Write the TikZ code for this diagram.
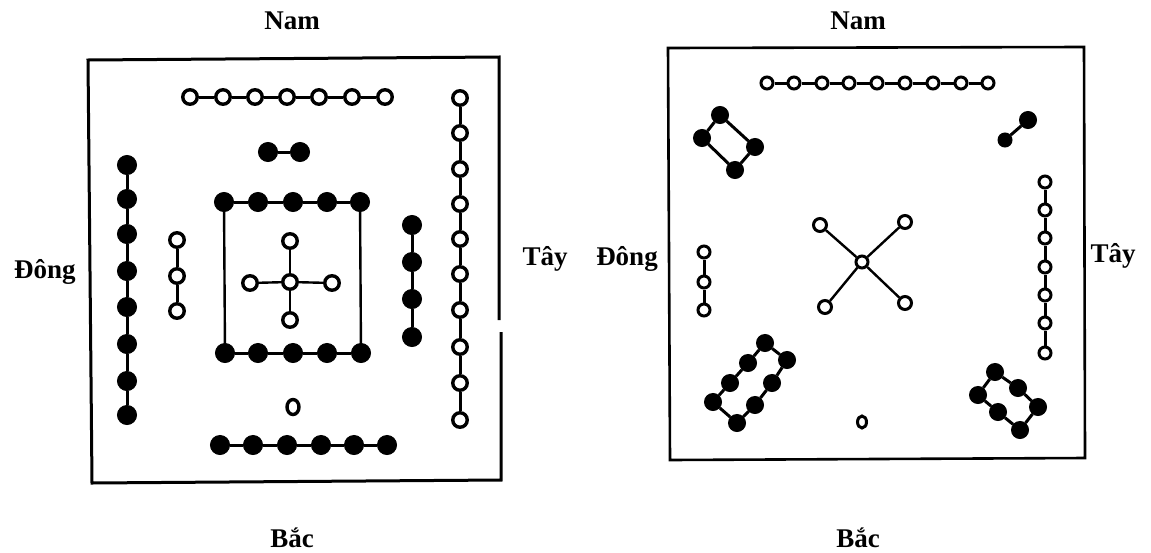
\documentclass[tikz,border=0pt]{standalone}
\usepackage{fontspec}
\setmainfont{Liberation Serif}
\usetikzlibrary{shapes.geometric}
\begin{document}
\begin{tikzpicture}[x=1pt,y=-1pt,
  wc/.style={circle,draw,fill=white,line width=3.4pt,minimum size=14.5pt,inner sep=0pt},
  wcs/.style={circle,draw,fill=white,line width=3pt,minimum size=12pt,inner sep=0pt},
  bc/.style={circle,draw,fill=black,line width=1pt,minimum size=19pt,inner sep=0pt},
  bcs/.style={circle,draw,fill=black,line width=1pt,minimum size=17pt,inner sep=0pt},
  edge/.style={line width=3pt},
  thinedge/.style={line width=2.4pt},
  frame/.style={line width=3pt},
  lbl/.style={font=\bfseries\fontsize{27}{30}\selectfont,inner sep=0pt}]
\useasboundingbox (0,0) rectangle (1151,552);
% ---------- labels ----------
\node[lbl] (namL) at (292,21) {Nam};
\node[lbl] (bacL) at (292,538) {Bắc};
\node[lbl] (dongL) at (45,272) {Đông};
\node[lbl] (tayL) at (545,259) {Tây};
\node[lbl] (namR) at (858,21) {Nam};
\node[lbl] (bacR) at (858,538) {Bắc};
\node[lbl] (dongR) at (627,259) {Đông};
\node[lbl] (tayR) at (1113,256) {Tây};
% ---------- left frame ----------
\coordinate (lf1) at (499,320);
\coordinate (lf2) at (499,57);
\coordinate (lf3) at (88,60);
\coordinate (lf4) at (92,483);
\coordinate (lf5) at (501,480);
\coordinate (lf6) at (501,332);
\draw[frame] (lf1) -- (lf2) -- (lf3) -- (lf4) -- (lf5) -- (lf6);
% ---------- right frame ----------
\coordinate (rf1) at (668,48);
\coordinate (rf2) at (1084,47);
\coordinate (rf3) at (1085,458);
\coordinate (rf4) at (670,460);
\draw[frame,line width=2.6pt] (rf1) -- (rf2) -- (rf3) -- (rf4) -- cycle;
% ================= LEFT PANEL =================
% top white row
\foreach \x [count=\i] in {190,223,255,287,319,352,385} \node[wc] (lt\i) at (\x,97) {};
\foreach \i in {1,...,6} {\pgfmathtruncatemacro\j{\i+1}\draw[edge] (lt\i) -- (lt\j);}
% black pair
\node[bc] (lp1) at (268,152) {};
\node[bc] (lp2) at (300,152) {};
\draw[edge] (lp1) -- (lp2);
% left black column
\foreach \y [count=\i] in {165,199,234,271,307,344,381,415} \node[bc] (lc\i) at (127,\y) {};
\foreach \i in {1,...,7} {\pgfmathtruncatemacro\j{\i+1}\draw[edge] (lc\i) -- (lc\j);}
% small white column
\foreach \y [count=\i] in {240,276,311} \node[wc] (lw\i) at (177,\y) {};
\foreach \i in {1,2} {\pgfmathtruncatemacro\j{\i+1}\draw[edge] (lw\i) -- (lw\j);}
% inner square
\foreach \x [count=\i] in {224,258,293,327,360} \node[bc] (sq\i) at (\x,202) {};
\foreach \x [count=\i] in {225,258,293,327,361} \node[bc] (sb\i) at (\x,353) {};
\foreach \i in {1,...,4} {\pgfmathtruncatemacro\j{\i+1}\draw[edge] (sq\i) -- (sq\j); \draw[edge] (sb\i) -- (sb\j);}
\draw[thinedge] (sq1) -- (sb1);
\draw[thinedge] (sq5) -- (sb5);
% cross
\node[wc] (cc) at (290,282) {};
\node[wc] (cn) at (290,241) {};
\node[wc] (cs) at (290,320) {};
\node[wc] (cw) at (250,283) {};
\node[wc] (ce) at (332,283) {};
\foreach \n in {cn,cs,cw,ce} \draw[thinedge] (cc) -- (\n);
% right black column
\foreach \y [count=\i] in {225,262,299,337} \node[bc] (rb\i) at (412,\y) {};
\foreach \i in {1,2,3} {\pgfmathtruncatemacro\j{\i+1}\draw[edge] (rb\i) -- (rb\j);}
% right white column
\foreach \y [count=\i] in {98,133,169,204,239,274,310,347,383,420} \node[wc] (rw\i) at (460,\y) {};
\foreach \i in {1,...,9} {\pgfmathtruncatemacro\j{\i+1}\draw[edge] (rw\i) -- (rw\j);}
% single white
\node[wc,ellipse,minimum width=12pt,minimum height=15pt] (ls) at (293,407) {};
% bottom black row
\foreach \x [count=\i] in {220,253,287,321,354,387} \node[bc] (bb\i) at (\x,445) {};
\foreach \i in {1,...,5} {\pgfmathtruncatemacro\j{\i+1}\draw[edge] (bb\i) -- (bb\j);}
% ================= RIGHT PANEL =================
% top white row
\foreach \x [count=\i] in {767,794,822,849,877,905,933,961,988} \node[wcs] (rt\i) at (\x,83) {};
\foreach \i in {1,...,8} {\pgfmathtruncatemacro\j{\i+1}\draw[edge] (rt\i) -- (rt\j);}
% black quad
\node[bcs] (qa) at (720,115) {};
\node[bcs] (qb) at (702,138) {};
\node[bcs] (qc) at (735,170) {};
\node[bcs] (qd) at (755,147) {};
\draw[edge] (qa) -- (qb) -- (qc) -- (qd) -- (qa);
% black pair
\node[bcs] (pa) at (1028,120) {};
\node[bcs,minimum size=14pt] (pb) at (1005,140) {};
\draw[edge] (pa) -- (pb);
% right white column
\foreach \y [count=\i] in {182,210,238,267,295,323,353} \node[wcs] (cw\i) at (1045,\y) {};
\foreach \i in {1,...,6} {\pgfmathtruncatemacro\j{\i+1}\draw[edge] (cw\i) -- (cw\j);}
% small white column
\foreach \y [count=\i] in {252,282,310} \node[wcs] (sw\i) at (704,\y) {};
\foreach \i in {1,2} {\pgfmathtruncatemacro\j{\i+1}\draw[edge] (sw\i) -- (sw\j);}
% X
\node[wcs] (xc) at (862,262) {};
\node[wcs,minimum size=13pt] (x1) at (820,225) {};
\node[wcs,minimum size=13pt] (x2) at (905,222) {};
\node[wcs,minimum size=13pt] (x3) at (825,307) {};
\node[wcs,minimum size=13pt] (x4) at (905,303) {};
\foreach \n in {x1,x2,x3,x4} \draw[thinedge] (xc) -- (\n);
% bottom-left black ring
\foreach \p [count=\i] in {(765,343),(787,360),(772,383),(755,405),(737,423),(713,402),(730,383),(748,363)} \node[bcs] (ra\i) at \p {};
\draw[edge] (ra1) -- (ra2) -- (ra3) -- (ra4) -- (ra5) -- (ra6) -- (ra7) -- (ra8) -- (ra1);
% bottom-right black ring
\foreach \p [count=\i] in {(995,372),(1018,388),(1038,407),(1020,430),(998,412),(978,395)} \node[bcs] (rr\i) at \p {};
\draw[edge] (rr1) -- (rr2) -- (rr3) -- (rr4) -- (rr5) -- (rr6) -- (rr1);
% single white
\node[wcs,ellipse,minimum width=9pt,minimum height=12pt] (rs) at (862,422) {};
\end{tikzpicture}
\end{document}
